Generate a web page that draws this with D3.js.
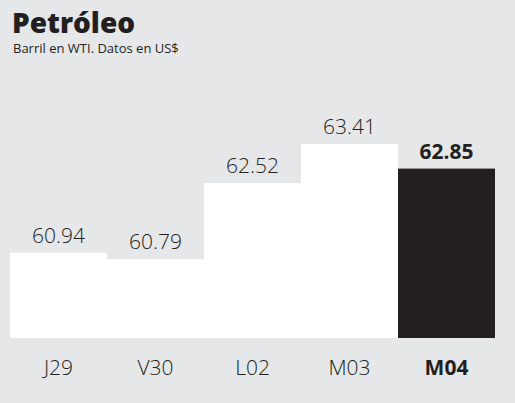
<!DOCTYPE html>
<html>
<head>
<meta charset="utf-8">
<script src="https://d3js.org/d3.v7.min.js"></script>
<style>
  body { margin: 0; background: #e6e7e9; }
  svg { display: block; }
  .title { font-family: "Open Sans", sans-serif; font-weight: 800; font-size: 28px; fill: #231f20; }
  .subtitle { font-family: "Open Sans", sans-serif; font-size: 13px; fill: #231f20; }
  .value, .cat { font-family: "Open Sans", sans-serif; font-weight: 300; font-size: 21px; fill: #231f20; }
  .hl { font-weight: 700; }
</style>
</head>
<body>
<div id="chart"></div>
<script>
// Data
var days   = ["J29", "V30", "L02", "M03", "M04"];
var prices = [60.94, 60.79, 62.52, 63.41, 62.85];
var highlight = "M04";

var width = 515, height = 403;
var margin = {top: 30, right: 20, bottom: 65, left: 10};

var svg = d3.select("#chart").append("svg")
  .attr("width", width)
  .attr("height", height);

svg.append("rect")
  .attr("width", width)
  .attr("height", height)
  .attr("fill", "#e6e7e9");

// Title
svg.append("text")
  .attr("class", "title")
  .attr("x", 12)
  .attr("y", 33)
  .text("Petróleo");

svg.append("text")
  .attr("class", "subtitle")
  .attr("x", 13)
  .attr("y", 53)
  .text("Barril en WTI. Datos en US$");

// Scales
var x = d3.scaleBand()
  .domain(days)
  .range([margin.left, width - margin.right])
  .padding(0);

var y = d3.scaleLinear()
  .domain([59, 66])
  .range([height - margin.bottom, margin.top]);

var data = days.map(function(d, i){ return {day: d, price: prices[i]}; });

// Bars
svg.selectAll("rect.bar")
  .data(data)
  .enter().append("rect")
  .attr("class", "bar")
  .attr("x", function(d){ return x(d.day); })
  .attr("width", x.bandwidth())
  .attr("y", function(d){ return y(d.price); })
  .attr("height", function(d){ return y.range()[0] - y(d.price); })
  .attr("fill", function(d){ return d.day == highlight ? "#231f20" : "#ffffff"; });

// Value labels
svg.selectAll("text.value")
  .data(data)
  .enter().append("text")
  .attr("class", function(d){ return d.day == highlight ? "value hl" : "value"; })
  .attr("text-anchor", "middle")
  .attr("x", function(d){ return x(d.day) + x.bandwidth() / 2; })
  .attr("y", function(d){ return y(d.price) - 10; })
  .text(function(d){ return d3.format(".2f")(d.price); });

// Category axis (labels only)
var xAxis = d3.axisBottom(x).tickSize(0).tickPadding(0);
var gx = svg.append("g")
  .attr("transform", "translate(0," + (height - margin.bottom) + ")")
  .call(xAxis);
gx.select(".domain").remove();
gx.selectAll(".tick text")
  .attr("class", function(d){ return d == highlight ? "cat hl" : "cat"; })
  .attr("dy", null)
  .attr("y", 37)
  .attr("font-family", null)
  .attr("font-size", null);
gx.attr("font-family", null).attr("font-size", null);
</script>
</body>
</html>
